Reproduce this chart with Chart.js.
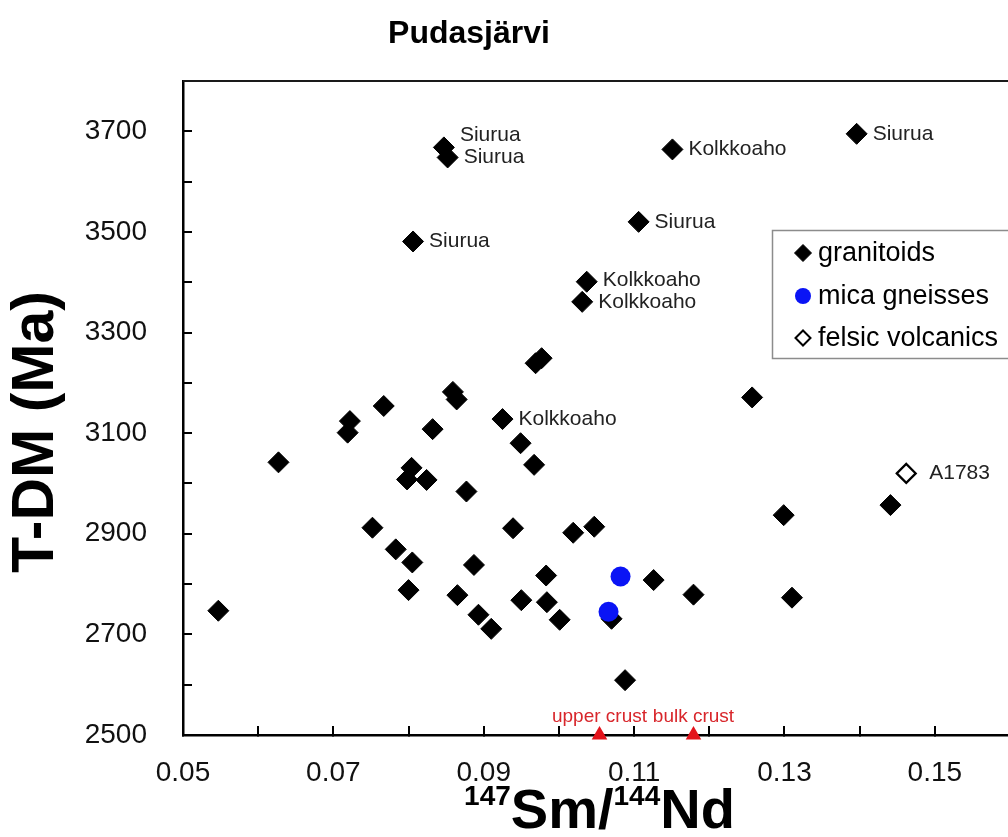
<!DOCTYPE html>
<html>
<head>
<meta charset="utf-8">
<title>Pudasjärvi</title>
<script src="https://cdn.jsdelivr.net/npm/chart.js@4.4.0/dist/chart.umd.min.js"></script>
<style>
  html, body { margin: 0; padding: 0; background: #fff; overflow: hidden; }
  #wrap { position: relative; width: 1040px; height: 837px; }
</style>
</head>
<body>
<div id="wrap"><canvas id="c" width="1040" height="837"></canvas></div>
<script>
// 147Sm/144Nd ratios and depleted-mantle model ages (Ma)
const granitoidSm = [0.0547, 0.0627, 0.0719, 0.0722, 0.0752, 0.0767, 0.0783, 0.0798, 0.0800, 0.0804,
                     0.0805, 0.0806, 0.0824, 0.0832, 0.0847, 0.0852, 0.0859, 0.0864, 0.0865, 0.0877,
                     0.0887, 0.0893, 0.0910, 0.0925, 0.0939, 0.0949, 0.0950, 0.0967, 0.0969, 0.0977,
                     0.0983, 0.0984, 0.1001, 0.1019, 0.1031, 0.1037, 0.1047, 0.1070, 0.1088, 0.1106,
                     0.1126, 0.1151, 0.1179, 0.1257, 0.1299, 0.1310, 0.1396, 0.1441];
const granitoidTdm = [2747, 3042, 3101, 3124, 2912, 3154, 2869, 3008, 2788, 3031,
                      2843, 3481, 3007, 3108, 3668, 3648, 3182, 3167, 2778, 2984,
                      2838, 2739, 2711, 3128, 2911, 3080, 2768, 3037, 3239, 3249,
                      2817, 2764, 2729, 2902, 3361, 3401, 2914, 2731, 2609, 3520,
                      2808, 3664, 2779, 3171, 2937, 2773, 3695, 2957];
const granitoidNames = ['', '', '', '', '', '', '', '', '', '',
                        '', 'Siurua', '', '', 'Siurua', 'Siurua', '', '', '', '',
                        '', '', '', 'Kolkkoaho', '', '', '', '', '', '',
                        '', '', '', '', 'Kolkkoaho', 'Kolkkoaho', '', '', '', 'Siurua',
                        '', 'Kolkkoaho', '', '', '', '', 'Siurua', ''];

const micaSm = [0.1082, 0.1066];
const micaTdm = [2815, 2745];

const felsicSm = [0.1462];
const felsicTdm = [3020];
const felsicNames = ['A1783'];

const crustSm = [0.1054, 0.1179];
const crustTdm = [2500, 2500];
const crustNames = ['upper crust', 'bulk crust'];

const legendNames = ['granitoids', 'mica gneisses', 'felsic volcanics'];
const chartTitle = 'Pudasjärvi';
const yTitle = 'T-DM (Ma)';

const FONT = '"Liberation Sans", Arial, Helvetica, sans-serif';

function pts(xs, ys) { return xs.map((x, i) => ({ x: x, y: ys[i] })); }

// Text beside labelled points; overlapping labels are nudged upward
const pointLabelPlugin = {
  id: 'pointLabels',
  afterDatasetsDraw(chart) {
    const ctx = chart.ctx;
    const items = [];
    chart.data.datasets.forEach((ds, di) => {
      if (!ds.names) return;
      const meta = chart.getDatasetMeta(di);
      meta.data.forEach((el, i) => {
        const t = ds.names[i];
        if (!t) return;
        items.push({ text: t, x: el.x, y: el.y, ds: ds, ly: el.y });
      });
    });
    const side = items.filter(it => it.ds.labelMode === 'side');
    side.sort((a, b) => a.y - b.y);
    for (let i = 0; i < side.length; i++) {
      for (let j = i + 1; j < side.length; j++) {
        const a = side[i], b = side[j];
        if (Math.abs(a.x - b.x) < 60 && Math.abs(b.ly - a.ly) < 22) {
          a.ly = b.ly - 22;
        }
      }
    }
    ctx.save();
    items.forEach(it => {
      const ds = it.ds;
      ctx.fillStyle = ds.labelColor;
      ctx.font = ds.labelFont;
      if (ds.labelMode === 'side') {
        ctx.textAlign = 'left';
        ctx.textBaseline = 'middle';
        ctx.fillText(it.text, it.x + ds.labelGap, it.ly);
      } else {
        ctx.textAlign = 'center';
        ctx.textBaseline = 'alphabetic';
        ctx.fillText(it.text, it.x, it.y - ds.labelGap);
      }
    });
    ctx.restore();
  }
};

// Frame top, titles and the boxed legend
const decorPlugin = {
  id: 'decor',
  beforeDatasetsDraw(chart) {
    const { ctx, chartArea } = chart;
    ctx.save();
    ctx.strokeStyle = '#1a1a1a';
    ctx.lineWidth = 2;
    ctx.beginPath();
    ctx.moveTo(chartArea.left, chartArea.top);
    ctx.lineTo(chartArea.right, chartArea.top);
    ctx.stroke();
    ctx.restore();
  },
  afterDraw(chart) {
    const { ctx, chartArea } = chart;
    ctx.save();
    ctx.fillStyle = '#000';

    // chart title
    ctx.font = 'bold 32px ' + FONT;
    ctx.textAlign = 'center';
    ctx.textBaseline = 'alphabetic';
    ctx.fillText(chartTitle, 469, 43);

    // y-axis title
    ctx.save();
    ctx.translate(37, 432);
    ctx.rotate(-Math.PI / 2);
    ctx.font = 'bold 59px ' + FONT;
    ctx.textAlign = 'center';
    ctx.textBaseline = 'middle';
    ctx.fillText(yTitle, 0, 0);
    ctx.restore();

    // x-axis title with superscript mass numbers
    const parts = [
      { t: '147', sup: true }, { t: 'Sm/', sup: false },
      { t: '144', sup: true }, { t: 'Nd', sup: false }
    ];
    const bigFont = 'bold 56px ' + FONT, supFont = 'bold 28px ' + FONT;
    let total = 0;
    parts.forEach(p => { ctx.font = p.sup ? supFont : bigFont; p.w = ctx.measureText(p.t).width; total += p.w; });
    let x = (chartArea.left + chartArea.right) / 2 - total / 2 + 3;
    ctx.textAlign = 'left';
    ctx.textBaseline = 'alphabetic';
    parts.forEach(p => {
      ctx.font = p.sup ? supFont : bigFont;
      ctx.fillText(p.t, x, p.sup ? 805 : 828);
      x += p.w;
    });

    // legend box
    const bx = 772.5, by = 230.5, bw = 270, bh = 128;
    ctx.fillStyle = '#fff';
    ctx.fillRect(bx, by, bw, bh);
    ctx.strokeStyle = '#8c8c8c';
    ctx.lineWidth = 1.5;
    ctx.strokeRect(bx, by, bw, bh);
    const rows = [253, 296, 338];
    const sets = chart.data.datasets
      .filter(d => d.legendIndex !== undefined)
      .sort((a, b) => a.legendIndex - b.legendIndex);
    sets.forEach((ds, i) => {
      ctx.fillStyle = ds.backgroundColor;
      ctx.strokeStyle = ds.borderColor;
      ctx.lineWidth = ds.legendBorder;
      Chart.helpers.drawPoint(ctx, {
        pointStyle: ds.pointStyle, radius: ds.legendRadius, rotation: 0, borderWidth: ds.legendBorder
      }, 803, rows[i]);
      ctx.fillStyle = '#000';
      ctx.font = '27px ' + FONT;
      ctx.textAlign = 'left';
      ctx.textBaseline = 'middle';
      ctx.fillText(ds.label, 818, rows[i] + 1);
    });
    ctx.restore();
  }
};

const tickFont = { family: FONT, size: 28 };

new Chart(document.getElementById('c'), {
  type: 'scatter',
  data: {
    datasets: [
      {
        label: legendNames[1], data: pts(micaSm, micaTdm), order: 1, legendIndex: 1,
        pointStyle: 'circle', pointRadius: 10, pointBorderWidth: 0,
        backgroundColor: '#0a14f5', borderColor: '#0a14f5',
        legendRadius: 8, legendBorder: 0, clip: false
      },
      {
        label: legendNames[0], data: pts(granitoidSm, granitoidTdm), order: 2, legendIndex: 0,
        pointStyle: 'rectRot', pointRadius: 10.5, pointBorderWidth: 1,
        backgroundColor: '#000', borderColor: '#000',
        legendRadius: 8.5, legendBorder: 1, clip: false,
        names: granitoidNames, labelMode: 'side', labelGap: 16,
        labelFont: '21px ' + FONT, labelColor: '#222'
      },
      {
        label: legendNames[2], data: pts(felsicSm, felsicTdm), order: 3, legendIndex: 2,
        pointStyle: 'rectRot', pointRadius: 9.5, pointBorderWidth: 2.2,
        backgroundColor: '#fff', borderColor: '#000',
        legendRadius: 7.5, legendBorder: 2, clip: false,
        names: felsicNames, labelMode: 'side', labelGap: 23,
        labelFont: '21px ' + FONT, labelColor: '#222'
      },
      {
        label: 'crust', data: pts(crustSm, crustTdm), order: 0,
        pointStyle: 'triangle', pointRadius: 9, pointBorderWidth: 0,
        backgroundColor: '#e3141c', borderColor: '#e3141c', clip: false,
        names: crustNames, labelMode: 'above', labelGap: 13,
        labelFont: '19px ' + FONT, labelColor: '#d8262b'
      }
    ]
  },
  options: {
    responsive: false,
    animation: false,
    events: [],
    layout: { padding: { left: 0, top: 81, right: 23, bottom: 0 } },
    plugins: { legend: { display: false }, tooltip: { enabled: false }, title: { display: false } },
    scales: {
      x: {
        type: 'linear', position: 'bottom', min: 0.05, max: 0.16,
        afterFit: s => { s.height = 102; },
        ticks: {
          stepSize: 0.01, autoSkip: false, maxRotation: 0, font: tickFont, color: '#111', padding: 30,
          callback: v => { const k = Math.round(v * 100); return k % 2 === 1 ? (k / 100).toFixed(2) : ''; }
        },
        grid: { drawOnChartArea: false, drawTicks: true, tickLength: -9, color: '#000', lineWidth: 2 },
        border: { display: true, color: '#000', width: 2.5 }
      },
      y: {
        type: 'linear', position: 'left', min: 2500, max: 3800,
        afterFit: s => { s.width = 183; },
        ticks: {
          stepSize: 100, autoSkip: false, font: tickFont, color: '#111', padding: 45,
          callback: v => { const r = Math.round(v); return (r - 2500) % 200 === 0 ? String(r) : ''; }
        },
        grid: { drawOnChartArea: false, drawTicks: true, tickLength: -9, color: '#000', lineWidth: 2 },
        border: { display: true, color: '#000', width: 2.5 }
      }
    }
  },
  plugins: [pointLabelPlugin, decorPlugin]
});
</script>
</body>
</html>
